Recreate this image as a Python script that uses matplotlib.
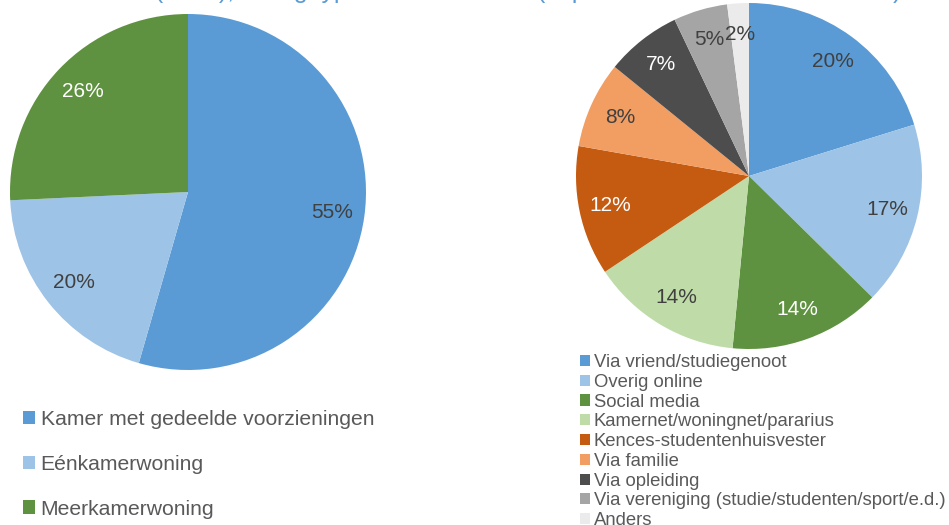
import matplotlib.pyplot as plt

plt.rcParams['font.family'] = ['Liberation Sans', 'DejaVu Sans']

W, H = 949, 525

# Woningtype
type_labels = ["Kamer met gedeelde voorzieningen", "Eénkamerwoning", "Meerkamerwoning"]
type_values = [55, 20, 26]
type_colors = ["#5B9BD5", "#9DC3E6", "#5F9240"]
type_text = ["#404040", "#404040", "white"]

# Hoe gevonden
channel_labels = [
    "Via vriend/studiegenoot",
    "Overig online",
    "Social media",
    "Kamernet/woningnet/pararius",
    "Kences-studentenhuisvester",
    "Via familie",
    "Via opleiding",
    "Via vereniging (studie/studenten/sport/e.d.)",
    "Anders",
]
channel_values = [20, 17, 14, 14, 12, 8, 7, 5, 2]
channel_colors = ["#5B9BD5", "#9DC3E6", "#5F9240", "#BFDCA8", "#C55A11",
                  "#F29D62", "#4D4D4D", "#A5A5A5", "#EBEBEB"]
channel_text = ["#404040", "#404040", "white", "#404040", "white",
                "#404040", "white", "#404040", "#404040"]

TITLE = "Woonsituatie (2015), huidig type en zoekkanaal (in procenten van alle studenten)"

fig = plt.figure(figsize=(W / 100, H / 100), dpi=100)


def px_axes(cx, cy, r):
    # square axes around a pie centre given in pixels
    return fig.add_axes([(cx - r) / W, 1 - (cy + r) / H, 2 * r / W, 2 * r / H])


def draw_pie(ax, values, colors, text_colors):
    wedges, texts = ax.pie(
        values,
        colors=colors,
        labels=[f"{v}%" for v in values],
        labeldistance=0.82,
        startangle=90,
        counterclock=False,
        wedgeprops=dict(linewidth=0),
    )
    for t, c in zip(texts, text_colors):
        t.set_color(c)
        t.set_fontsize(15)
        t.set_ha("center")
        t.set_va("center")
    ax.set_xlim(-1, 1)
    ax.set_ylim(-1, 1)
    ax.set_aspect("equal")
    ax.axis("off")
    return wedges


ax1 = px_axes(188, 192, 178)
w1 = draw_pie(ax1, type_values, type_colors, type_text)

ax2 = px_axes(749, 176, 173)
w2 = draw_pie(ax2, channel_values, channel_colors, channel_text)

fig.legend(
    w1, type_labels,
    loc="upper left", bbox_to_anchor=(23 / W, 1 - 410 / H),
    frameon=False, fontsize=15.2, labelcolor="#595959",
    handlelength=0.58, handleheight=0.58, handletextpad=0.25,
    labelspacing=1.22, borderpad=0, borderaxespad=0,
)

fig.legend(
    w2, channel_labels,
    loc="upper left", bbox_to_anchor=(580 / W, 1 - 354 / H),
    frameon=False, fontsize=13.3, labelcolor="#595959",
    handlelength=0.55, handleheight=0.55, handletextpad=0.2,
    labelspacing=0.15, borderpad=0, borderaxespad=0,
)

# title sits almost entirely above the top edge
fig.text(4 / W, 1 + 2 / H, TITLE, color="#5B9BD5", fontsize=18,
         va="baseline", ha="left")

fig.savefig("out.png", dpi=100)
